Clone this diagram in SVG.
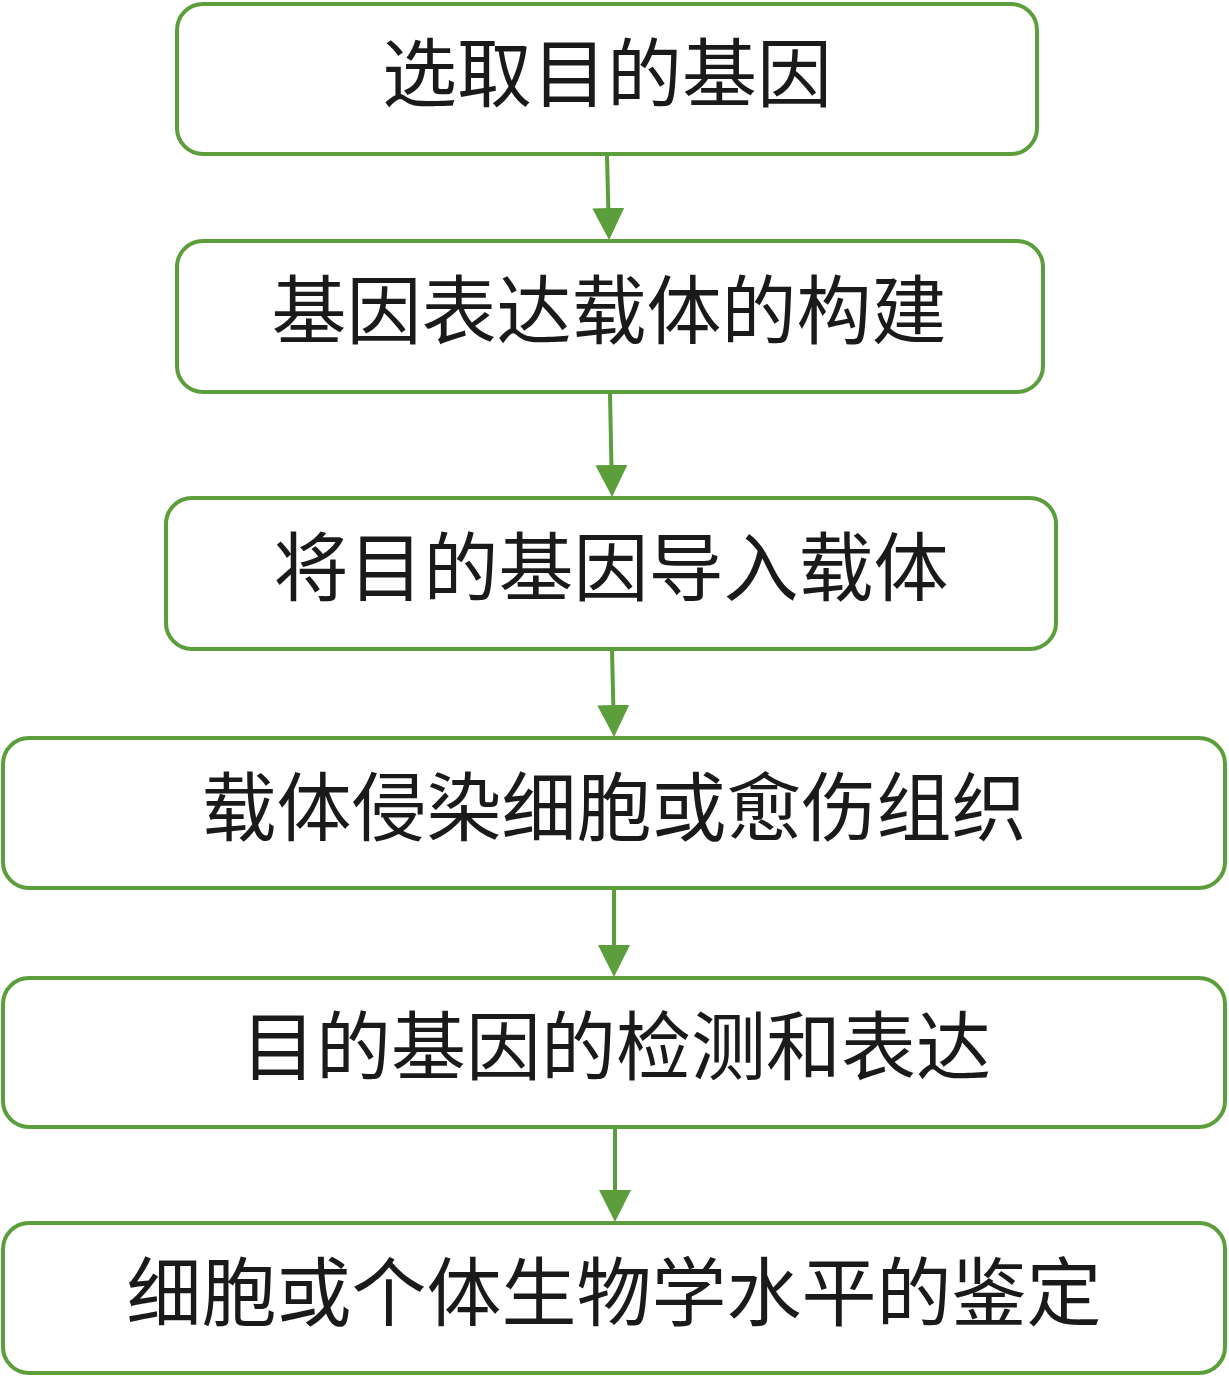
<svg xmlns="http://www.w3.org/2000/svg" width="1229" height="1377" viewBox="0 0 1229 1377">
<style>
.box{fill:#fff;stroke:#5c9e3c;stroke-width:4}
.t{font-family:"Noto Sans CJK SC","Noto Sans",sans-serif;font-size:75px;fill:#1a1a1a;text-anchor:middle;dominant-baseline:central}
.c{stroke:#5c9e3c;stroke-width:4;fill:none;marker-end:url(#a)}
</style>
<defs><marker id="a" markerWidth="8" markerHeight="8" refX="7" refY="4" orient="auto" markerUnits="strokeWidth"><path d="M0,0L8,4L0,8z" fill="#5c9e3c"/></marker></defs>
<rect width="1229" height="1377" fill="#fff"/>
<g id="n1"><rect class="box" x="177" y="4" width="860" height="150" rx="26"/><text class="t" x="607" y="68">选取目的基因</text></g>
<g id="n2"><rect class="box" x="177" y="241" width="866" height="151" rx="26"/><text class="t" x="609" y="305">基因表达载体的构建</text></g>
<g id="n3"><rect class="box" x="166" y="498" width="890" height="151" rx="26"/><text class="t" x="611" y="562">将目的基因导入载体</text></g>
<g id="n4"><rect class="box" x="3" y="738" width="1222" height="150" rx="26"/><text class="t" x="614" y="802">载体侵染细胞或愈伤组织</text></g>
<g id="n5"><rect class="box" x="3" y="978" width="1222" height="149" rx="26"/><text class="t" x="616" y="1041">目的基因的检测和表达</text></g>
<g id="n6"><rect class="box" x="3" y="1223" width="1222" height="150" rx="26"/><text class="t" x="614" y="1287">细胞或个体生物学水平的鉴定</text></g>
<g id="connectors">
<path class="c" d="M607,156L609,236"/>
<path class="c" d="M610,394L612,493"/>
<path class="c" d="M612,651L614,733"/>
<path class="c" d="M614,890L614,973"/>
<path class="c" d="M615,1129L615,1218"/>
</g>
</svg>
